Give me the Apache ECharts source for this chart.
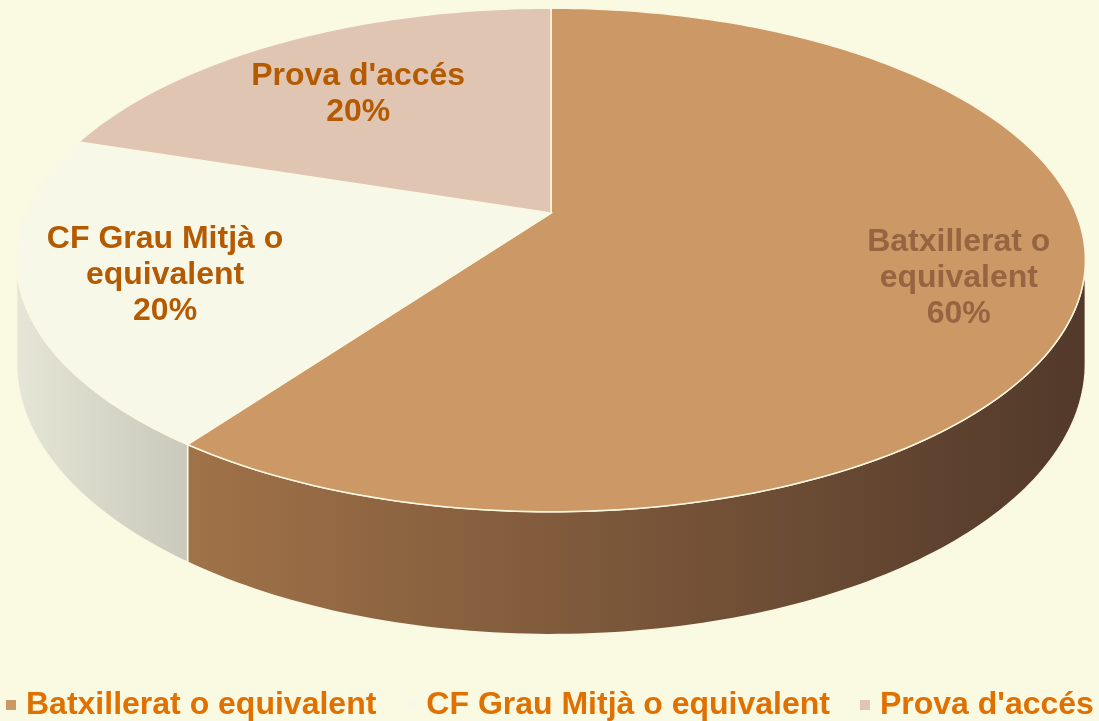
<!DOCTYPE html>
<html>
<head>
<meta charset="utf-8">
<script src="https://cdn.jsdelivr.net/npm/echarts@6/dist/echarts.min.js"></script>
<style>
  html, body { margin: 0; padding: 0; background: #FAF9E1; }
  #chart { width: 1099px; height: 721px; }
</style>
</head>
<body>
<div id="chart"></div>
<script>
// data
var categories = ['Batxillerat o equivalent', 'CF Grau Mitjà o equivalent', "Prova d'accés"];
var values = [60, 20, 20];
var labelLines = [['Batxillerat o', 'equivalent'], ['CF Grau Mitjà o', 'equivalent'], ["Prova d'accés"]];

// look
var topColors = ['#CC9966', '#F8F8E9', '#E0C5B2'];
var labelColors = ['#966441', '#B45A00', '#B45A00'];
var labelRadius = [0.78, 0.74, 0.69];
var LABEL_DY = 4;
var sideColors = [
  ['#A07248', '#52392A'],
  ['#E6E6D6', '#C9C9BC'],
  ['#C9A894', '#A58673']
];

// fake perspective of the disc
var CX = 551, CY = 213;     // projected pie centre
var K = 525, M = 243;       // horizontal / vertical radius
var P = 0.1865;             // perspective strength
var H = 100;                // thickness

var total = values.reduce(function (a, b) { return a + b; }, 0);
var thetaR = Math.acos(-P);           // right silhouette
var thetaL = 2 * Math.PI - thetaR;    // left silhouette

function project(theta, r, drop) {
  var X = Math.sin(theta) * r, Y = Math.cos(theta) * r;
  var d = 1 + P * Y;
  return [CX + K * X / d, CY - M * Y / d + (drop ? H / d : 0)];
}

function sliceAngles(idx) {
  var before = 0;
  for (var i = 0; i < idx; i++) { before += values[i]; }
  return [before / total * 2 * Math.PI, (before + values[idx]) / total * 2 * Math.PI];
}

function arc(a, b, drop) {
  var pts = [];
  var n = Math.max(2, Math.ceil((b - a) / (Math.PI / 180)));
  for (var i = 0; i <= n; i++) {
    pts.push(project(a + (b - a) * i / n, 1, drop));
  }
  return pts;
}

function renderSide(params, api) {
  var idx = params.dataIndex;
  var ang = sliceAngles(idx);
  var a = Math.max(ang[0], thetaR), b = Math.min(ang[1], thetaL);
  if (b <= a) { return null; }
  var top = arc(a, b, false);
  var bottom = arc(a, b, true).reverse();
  var xs = top.map(function (p) { return p[0]; });
  var x0 = Math.min.apply(null, xs), x1 = Math.max.apply(null, xs);
  var c = sideColors[idx];
  return {
    type: 'polygon',
    shape: { points: top.concat(bottom) },
    style: {
      fill: new echarts.graphic.LinearGradient(x0, 0, x1, 0, [
        { offset: 0, color: c[0] }, { offset: 1, color: c[1] }
      ], true),
      stroke: '#FAF8E2',
      lineWidth: 1.5
    }
  };
}

function renderTop(params, api) {
  var idx = params.dataIndex;
  var ang = sliceAngles(idx);
  var pts = [[CX, CY]].concat(arc(ang[0], ang[1], false));
  var mid = (ang[0] + ang[1]) / 2;
  var lp = project(mid, labelRadius[idx], false);
  var pct = Math.round(api.value(0) / total * 100) + '%';
  return {
    type: 'group',
    children: [{
      type: 'polygon',
      shape: { points: pts },
      style: { fill: topColors[idx], stroke: '#FAF8E2', lineWidth: 1.5 }
    }, {
      type: 'text',
      z2: 10,
      style: {
        text: labelLines[idx].concat([pct]).join('\n'),
        x: lp[0],
        y: lp[1] + LABEL_DY,
        align: 'center',
        verticalAlign: 'middle',
        fill: labelColors[idx],
        font: 'bold 32px "Liberation Sans", Arial, sans-serif',
        lineHeight: 36
      }
    }]
  };
}

var seriesData = values.map(function (v, i) { return { name: categories[i], value: v }; });

var chart = echarts.init(document.getElementById('chart'), null, { renderer: 'canvas' });
chart.setOption({
  backgroundColor: '#FAF9E1',
  animation: false,
  legend: {
    data: categories,
    left: 6,
    top: 689,
    width: 1093,
    padding: 0,
    icon: 'rect',
    itemWidth: 10,
    itemHeight: 10,
    itemGap: 30,
    textStyle: {
      color: '#E07000',
      fontSize: 32,
      fontWeight: 'bold',
      fontFamily: '"Liberation Sans", Arial, sans-serif',
      padding: [0, 0, 0, 5]
    }
  },
  series: [{
    // only feeds the legend
    type: 'pie',
    radius: 0,
    center: [-100, -100],
    silent: true,
    label: { show: false },
    labelLine: { show: false },
    data: values.map(function (v, i) {
      return { name: categories[i], value: v, itemStyle: { color: topColors[i] } };
    })
  }, {
    type: 'custom',
    coordinateSystem: 'none',
    silent: true,
    renderItem: renderSide,
    data: seriesData,
    z: 1
  }, {
    type: 'custom',
    coordinateSystem: 'none',
    silent: true,
    renderItem: renderTop,
    data: seriesData,
    z: 2
  }]
});
</script>
</body>
</html>
